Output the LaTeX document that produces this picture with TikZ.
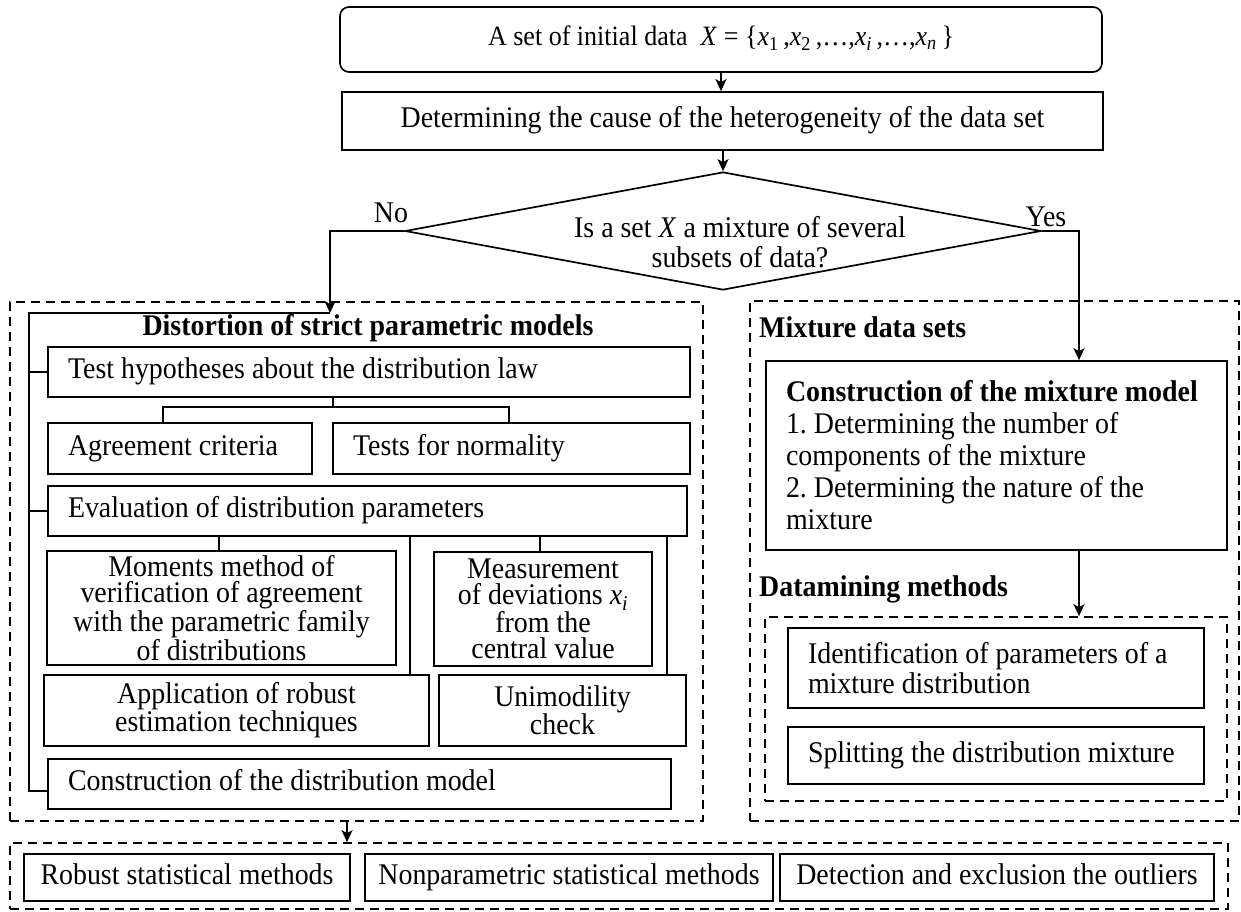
\documentclass[tikz,border=0pt]{standalone}
\usepackage{fontspec}
\setmainfont{Liberation Serif}[FakeStretch=0.93]
\usetikzlibrary{arrows.meta,shapes.geometric}
\frenchspacing

\begin{document}
\begin{tikzpicture}[x=1pt,y=-1pt,
  every node/.style={font=\fontsize{30}{32}\selectfont, inner sep=0pt},
  box/.style={draw, line width=1.7pt},
  one/.style={text height=20pt, text depth=7pt},
  lbox/.style={box, align=flush left, inner xsep=20pt},
  cbox/.style={box, align=flush center},
  dbox/.style={draw, line width=1.7pt, dash pattern=on 9pt off 6pt},
  link/.style={line width=1.7pt},
  arr/.style={line width=1.7pt, -{Stealth[length=12pt,width=11pt,inset=3pt]}},
  ttl/.style={font=\fontsize{30}{32}\selectfont\bfseries},
  tight/.style={font=\fontsize{30}{26}\selectfont},
]
\useasboundingbox (0,0) rectangle (1241,912);

% --- top of the flow ---
\node[box, one, rounded corners=9pt, minimum width=762pt, minimum height=65pt,
      font=\fontsize{28}{32}\selectfont] (init) at (721,39.5)
  {A set of initial data \ \textit{X} = \{\textit{x}\textsubscript{1}\,,\textit{x}\textsubscript{2}\,,\ldots,\textit{x}\textsubscript{\textit{i}}\,,\ldots,\textit{x}\textsubscript{\textit{n}}\,\}};
\node[box, one, minimum width=761pt, minimum height=58pt] (cause) at (722.5,121)
  {Determining the cause of the heterogeneity of the data set};
\node[draw, line width=1.7pt, diamond, minimum width=636pt, minimum height=118pt] (dia) at (723,231) {};
\node[align=flush center, font=\fontsize{30}{30}\selectfont] (q) at (740,242)
  {Is a set \textit{X} a mixture of several\\subsets of data?};
\node (no) at (391,213) {No};
\node (yes) at (1046,217) {Yes};

% --- left panel: distortion of parametric models ---
\node[dbox, minimum width=693pt, minimum height=519pt] (lp) at (356.5,561.5) {};
\node[ttl] (lpt) at (368,328) {Distortion of strict parametric models};
\node[lbox, one, minimum width=642pt, minimum height=50pt, text width=602pt] (test) at (369,372)
  {Test hypotheses about the distribution law};
\node[lbox, one, minimum width=264pt, minimum height=51pt, text width=224pt] (agree) at (180,448.5)
  {Agreement criteria};
\node[lbox, one, minimum width=357pt, minimum height=51pt, text width=317pt] (normal) at (511.5,448.5)
  {Tests for normality};
\node[lbox, one, minimum width=639pt, minimum height=50pt, text width=599pt] (eval) at (367.5,511)
  {Evaluation of distribution parameters};
\node[cbox, tight, minimum width=349pt, minimum height=114pt] (moments) at (221.5,608)
  {Moments method of\\verification of agreement\\with the parametric family\\of distributions};
\node[cbox, tight, minimum width=218pt, minimum height=114pt] (measure) at (543,609)
  {Measurement\\of deviations \textit{x\textsubscript{i}}\\from the\\central value};
\node[cbox, tight, minimum width=385pt, minimum height=71pt] (apply) at (236.5,710.5)
  {Application of robust\\estimation techniques};
\node[cbox, tight, minimum width=247pt, minimum height=71pt] (unimod) at (562.5,710.5)
  {Unimodility\\check};
\node[lbox, one, minimum width=623pt, minimum height=50pt, text width=583pt] (constr) at (359.5,784)
  {Construction of the distribution model};

% --- right panel: mixture data sets ---
\node[dbox, minimum width=489pt, minimum height=520pt] (rp) at (994.5,561) {};
\node[ttl, anchor=west] (rpt) at (759,327) {Mixture data sets};
\node[lbox, minimum width=461pt, minimum height=189pt, text width=421pt] (mixm) at (996.5,455.5)
  {\mbox{\textbf{Construction of the mixture model}}\\1. Determining the number of\\components of the mixture\\2. Determining the nature of the\\mixture};
\node[ttl, anchor=west] (dmt) at (759,589) {Datamining methods};
\node[dbox, minimum width=462pt, minimum height=184pt] (dm) at (996,709) {};
\node[lbox, font=\fontsize{30}{30}\selectfont, minimum width=416pt, minimum height=80pt, text width=376pt] (ident) at (996,668)
  {\mbox{Identification of parameters of a}\\mixture distribution};
\node[lbox, one, minimum width=416pt, minimum height=57pt, text width=376pt] (split) at (996,755.5)
  {\mbox{Splitting the distribution mixture}};

% --- resulting methods ---
\node[dbox, minimum width=1218pt, minimum height=66pt] (out) at (619,876) {};
\node[cbox, one, minimum width=326pt, minimum height=47pt] (robust) at (187,877.5) {Robust statistical methods};
\node[cbox, one, minimum width=408pt, minimum height=47pt] (nonpar) at (569,877.5) {Nonparametric statistical methods};
\node[cbox, one, minimum width=434pt, minimum height=47pt] (detect) at (997,877.5) {Detection and exclusion the outliers};

% --- connectors ---
\draw[arr] (init.south) -- (init.south |- cause.north);
\draw[arr] (dia.north |- cause.south) -- (dia.north);

\coordinate (nox) at (330,313);
\coordinate (spine) at (29,313);
\draw[arr] (dia.west) -| (nox);
\draw[link] (nox) -- (spine) |- ([yshift=-7pt]constr.west);
\draw[link] (spine |- test.west) -- (test.west);
\draw[link] (spine |- eval.west) -- (eval.west);

\coordinate (h1) at (333,407);
\coordinate (j1) at (163,407);
\coordinate (j2) at (509,407);
\draw[link] (h1 |- test.south) -- (h1);
\draw[link] (j1 |- agree.north) -- (j1) -- (j2) -- (j2 |- normal.north);

\coordinate (e1) at (219,0);
\coordinate (e2) at (410,0);
\coordinate (e3) at (540,0);
\coordinate (e4) at (667,0);
\draw[link] (e1 |- eval.south) -- (e1 |- moments.north);
\draw[link] (e2 |- eval.south) -- (e2 |- apply.north);
\draw[link] (e3 |- eval.south) -- (e3 |- measure.north);
\draw[link] (e4 |- eval.south) -- (e4 |- unimod.north);

\coordinate (yx) at (1079,0);
\draw[arr] (dia.east) -| (yx |- mixm.north);
\draw[arr] (yx |- mixm.south) -- (yx |- dm.north);

\coordinate (dx) at (347,0);
\draw[arr] (dx |- lp.south) -- (dx |- out.north);
\end{tikzpicture}
\end{document}
